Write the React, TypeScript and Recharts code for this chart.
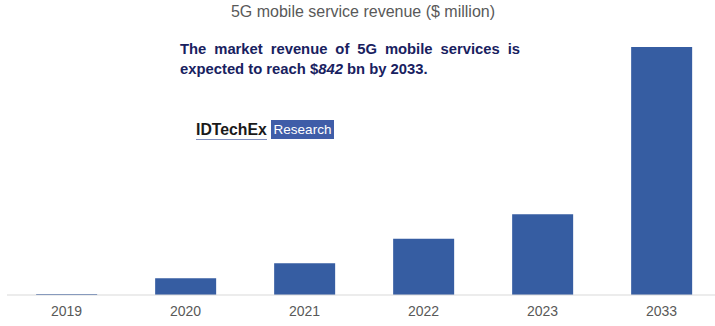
import React from "react";
import { BarChart, Bar, XAxis, YAxis } from "recharts";

const years = ["2019", "2020", "2021", "2022", "2023", "2033"];
const revenue = [3000, 56800, 107700, 191400, 274300, 842000];

const BAR_COLOR = "#365DA2";
const FONT = "'Liberation Sans', Arial, sans-serif";

const data = years.map((year, i) => ({ year, revenue: revenue[i] }));

export default function App() {
  return (
    <div
      style={{
        position: "absolute",
        left: 0,
        top: 0,
        width: 715,
        height: 326,
        overflow: "hidden",
        background: "#fff",
        fontFamily: FONT
      }}
    >
      <BarChart
        width={721}
        height={326}
        data={data}
        margin={{ top: 47, right: 0, left: 7, bottom: 0 }}
        barCategoryGap="24.5%"
      >
        <XAxis
          dataKey="year"
          axisLine={{ stroke: "#D9D9D9", strokeWidth: 1 }}
          tickLine={false}
          tickSize={0}
          tickMargin={11}
          height={31}
          interval={0}
          tick={{ fill: "#595959", fontSize: 14, fontFamily: FONT }}
        />
        <YAxis hide domain={[0, 842000]} />
        <Bar dataKey="revenue" fill={BAR_COLOR} isAnimationActive={false} />
      </BarChart>

      {/* title */}
      <div
        style={{
          position: "absolute",
          left: 0,
          top: 3,
          width: 726,
          textAlign: "center",
          fontSize: 16,
          color: "#595959"
        }}
      >
        5G mobile service revenue ($ million)
      </div>

      {/* annotation */}
      <div
        style={{
          position: "absolute",
          left: 180,
          top: 39,
          width: 340,
          fontSize: 14.8,
          fontWeight: "bold",
          color: "#18215F",
          lineHeight: "20px"
        }}
      >
        <div style={{ textAlign: "justify", textAlignLast: "justify" }}>
          The market revenue of 5G mobile services is
        </div>
        <div>
          expected to reach $<i>842</i> bn by 2033.
        </div>
      </div>

      {/* logo */}
      <div
        style={{
          position: "absolute",
          left: 196,
          top: 120,
          fontSize: 15.8,
          fontWeight: "bold",
          color: "#1a1a1a",
          lineHeight: "19px",
          borderBottom: "1px solid #8090C0"
        }}
      >
        IDTechEx
      </div>
      <div
        style={{
          position: "absolute",
          left: 271,
          top: 120,
          width: 63,
          height: 19,
          background: "#3F5DA8",
          color: "#fff",
          fontSize: 13.5,
          lineHeight: "19px",
          textAlign: "center"
        }}
      >
        Research
      </div>
    </div>
  );
}
